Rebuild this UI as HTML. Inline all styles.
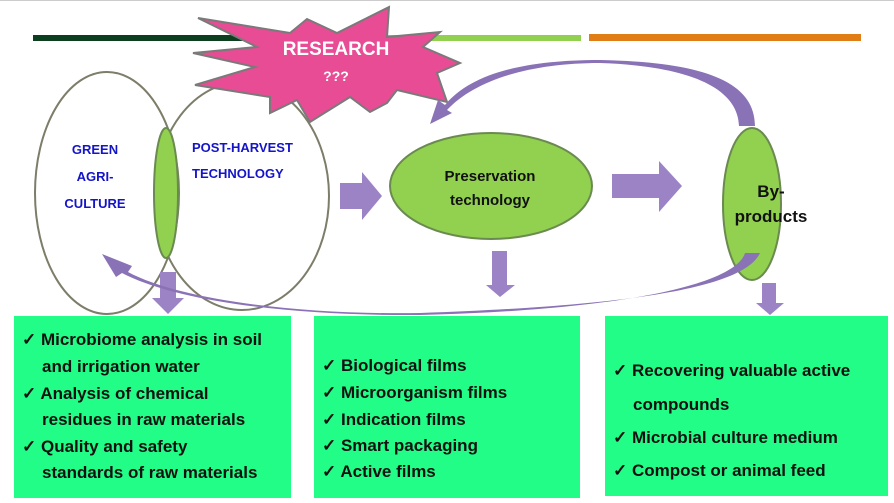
<!DOCTYPE html>
<html><head><style>
body{margin:0;width:894px;height:503px;background:#fff;position:relative;overflow:hidden;font-family:"Liberation Sans",sans-serif}
.box{position:absolute;background:#21fd86;font-weight:bold;font-size:17px;color:#111}
.box div{position:absolute;white-space:nowrap}
</style></head><body>
<svg width="894" height="503" style="position:absolute;left:0;top:0">
<rect x="0" y="0" width="894" height="1" fill="#ccc"/>
<rect x="33" y="35" width="270" height="6" fill="#0c3f1f"/>
<rect x="300" y="35" width="281" height="6" fill="#92d050"/>
<rect x="589" y="34" width="272" height="7" fill="#e07d14"/>
<ellipse cx="107" cy="193" rx="72" ry="121" fill="none" stroke="#7d7d6a" stroke-width="2"/>
<ellipse cx="242" cy="196" rx="87" ry="114" fill="none" stroke="#7d7d6a" stroke-width="2"/>
<ellipse cx="166" cy="193" rx="12" ry="65" fill="#92d050" stroke="#6a8a50" stroke-width="2"/>
<ellipse cx="491" cy="186" rx="101" ry="53" fill="#92d050" stroke="#6a8a50" stroke-width="2"/>
<ellipse cx="752" cy="204" rx="29" ry="76" fill="#92d050" stroke="#6a8a50" stroke-width="2"/>
<polygon points="198,18 290,33 307,19 337,33 389,7 387,37 440,32 423,47 460,63 437,73 447,102 397,90 387,103 370,112 350,97 310,122 297,100 270,113 270,97 195,85 255,67 193,53 257,47" fill="#e84c94" stroke="#7a7a7a" stroke-width="2"/>
<polygon points="340,183 362,183 362,172 382,196 362,220 362,209 340,209" fill="#9b83c5"/>
<polygon points="612,174 659,174 659,161 682,186 659,212 659,198 612,198" fill="#9b83c5"/>
<polygon points="160,272 176,272 176,298 184,298 168,314 152,298 160,298" fill="#9b83c5"/>
<polygon points="492,251 507,251 507,285 515,285 500,297 486,285 492,285" fill="#9b83c5"/>
<polygon points="762,283 776,283 776,303 784,303 770,315 756,303 762,303" fill="#9b83c5"/>
<!-- top curved arrow -->
<path d="M739,126 L755,126 C755,80 700,62 600,60 C520,60 470,75 445,105 L438,100 L430,124 L452,113 L447,110 C475,80 530,63 600,63 C690,66 738,88 739,126 Z" fill="#8a72b6"/>
<!-- bottom curved arrow -->
<path d="M745,253 L760,253 C745,285 650,305 420,313 C300,315 180,300 128,272 L132,266 L102,254 L116,277 L122,273 C180,303 300,316 420,315 C620,310 735,285 745,253 Z" fill="#8a72b6"/>
<text x="336" y="55" fill="#fff" font-size="19" font-weight="bold" text-anchor="middle">RESEARCH</text>
<text x="336" y="81" fill="#fff" font-size="14" font-weight="bold" text-anchor="middle">???</text>
<g fill="#1414c8" font-size="13" font-weight="bold">
<text x="95" y="154" text-anchor="middle">GREEN</text>
<text x="95" y="181" text-anchor="middle">AGRI-</text>
<text x="95" y="208" text-anchor="middle">CULTURE</text>
<text x="192" y="152">POST-HARVEST</text>
<text x="192" y="178">TECHNOLOGY</text>
</g>
<g fill="#111" font-weight="bold" text-anchor="middle">
<text x="490" y="181" font-size="15">Preservation</text>
<text x="490" y="205" font-size="15">technology</text>
<text x="771" y="197" font-size="17">By-</text>
<text x="771" y="222" font-size="17">products</text>
</g>
</svg>
<div class="box" style="left:14px;top:316px;width:277px;height:182px">
<div style="left:8px;top:14px">✓ Microbiome analysis in soil</div>
<div style="left:28px;top:41px">and irrigation water</div>
<div style="left:8px;top:68px">✓ Analysis of chemical</div>
<div style="left:28px;top:94px">residues in raw materials</div>
<div style="left:8px;top:121px">✓ Quality and safety</div>
<div style="left:28px;top:147px">standards of raw materials</div>
</div>
<div class="box" style="left:314px;top:316px;width:266px;height:182px">
<div style="left:8px;top:40px">✓ Biological films</div>
<div style="left:8px;top:67px">✓ Microorganism films</div>
<div style="left:8px;top:94px">✓ Indication films</div>
<div style="left:8px;top:120px">✓ Smart packaging</div>
<div style="left:8px;top:146px">✓ Active films</div>
</div>
<div class="box" style="left:605px;top:316px;width:283px;height:180px">
<div style="left:8px;top:45px">✓ Recovering valuable active</div>
<div style="left:28px;top:79px">compounds</div>
<div style="left:8px;top:112px">✓ Microbial culture medium</div>
<div style="left:8px;top:145px">✓ Compost or animal feed</div>
</div>
</body></html>
